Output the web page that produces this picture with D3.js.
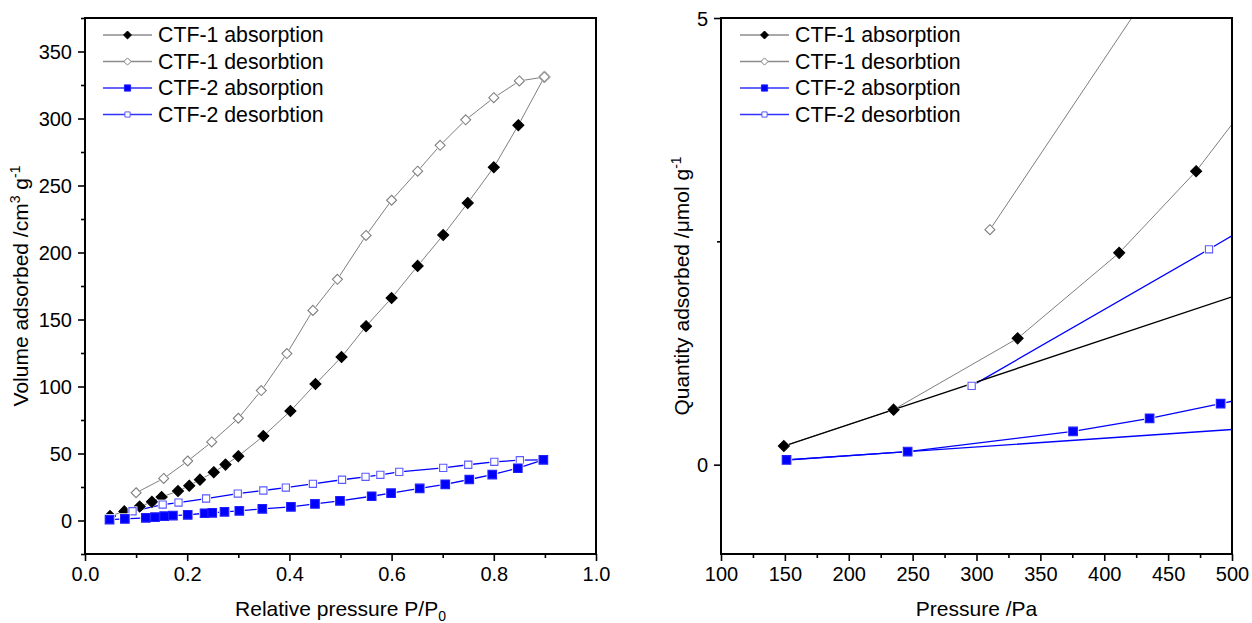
<!DOCTYPE html>
<html>
<head>
<meta charset="utf-8">
<script src="https://cdn.jsdelivr.net/npm/d3@7"></script>
<style>
  body { margin: 0; background: #fff; }
  svg { font-family: "Liberation Sans", Arial, sans-serif; }
</style>
</head>
<body>
<svg id="chart"></svg>
<script>
// Legend text, same for both panels
const legendLabels = ['CTF-1 absorption', 'CTF-1 desorbtion', 'CTF-2 absorption', 'CTF-2 desorbtion'];

// Left panel: relative pressure vs volume adsorbed
const relP1Abs = [0.049, 0.077, 0.107, 0.131, 0.15, 0.182, 0.204, 0.225, 0.252, 0.275, 0.3, 0.349, 0.402, 0.451, 0.502, 0.55, 0.6, 0.651, 0.701, 0.749, 0.8, 0.848, 0.899];
const vol1Abs = [3.3, 6.8, 10.4, 13.9, 17.5, 22, 26, 30.5, 36, 41.7, 48, 63, 81.7, 101.8, 122, 145, 166, 190, 213, 237, 263.6, 295, 331];
const relP1Des = [0.899, 0.85, 0.8, 0.745, 0.695, 0.651, 0.6, 0.55, 0.494, 0.446, 0.395, 0.345, 0.3, 0.248, 0.201, 0.154, 0.1];
const vol1Des = [331, 328, 315.5, 299, 280, 260.7, 239, 212.7, 180, 156.8, 124.6, 97, 76.3, 58.6, 44.4, 31.4, 20.7];
const relP2Abs = [0.048, 0.078, 0.119, 0.137, 0.155, 0.172, 0.201, 0.234, 0.249, 0.273, 0.302, 0.347, 0.403, 0.45, 0.499, 0.561, 0.599, 0.655, 0.705, 0.752, 0.797, 0.847, 0.897];
const vol2Abs = [0.7, 1.2, 2.0, 2.5, 3.2, 3.7, 4.2, 5.4, 5.7, 6.5, 7.2, 8.7, 10.2, 12.4, 14.7, 18.1, 20.4, 23.9, 27, 30.6, 34.3, 39, 45.3];
const relP2Des = [0.897, 0.851, 0.801, 0.75, 0.701, 0.615, 0.578, 0.549, 0.503, 0.446, 0.393, 0.349, 0.299, 0.237, 0.183, 0.152, 0.093];
const vol2Des = [45.3, 45, 43.8, 41.6, 39.3, 36.3, 34.1, 32.6, 30.4, 27.4, 24.6, 22.4, 20.1, 16.4, 13.4, 11.9, 6.9];
const leftXTicks = [0, 0.2, 0.4, 0.6, 0.8, 1.0];
const leftYTicks = [0, 50, 100, 150, 200, 250, 300, 350];

// Right panel: pressure (Pa) vs quantity adsorbed, low-pressure zoom
const pres1Abs = [149.2, 235.1, 332.2, 411.7, 471.9, 531];
const qty1Abs = [0.208, 0.616, 1.414, 2.371, 3.285, 4.39];
const pres1Des = [480, 310.5];
const qty1Des = [6.25, 2.63];
const pres2Abs = [151.3, 246.1, 375.6, 435.5, 491.1, 550];
const qty2Abs = [0.053, 0.146, 0.372, 0.519, 0.683, 0.86];
const pres2Des = [560, 482, 296.2];
const qty2Des = [3.07, 2.411, 0.882];
// straight lines through the first two adsorption points
const pres1Line = [149.2, 235.1, 500];
const qty1Line = [0.208, 0.616, 1.879];
const pres2Line = [151.3, 246.1, 500];
const qty2Line = [0.053, 0.146, 0.394];
const rightXTicks = [100, 150, 200, 250, 300, 350, 400, 450, 500];
const rightYTicks = [0, 5];

const width = 1252;
const height = 623;

const svg = d3.select('#chart')
  .attr('width', width)
  .attr('height', height);

// marker looks, in legend order
const styles = [
  {line: '#7f7f7f', lineWidth: 1, shape: 'diamond', fill: '#000', stroke: '#000', r: 5.5},
  {line: '#7f7f7f', lineWidth: 1, shape: 'diamond', fill: '#fff', stroke: '#808080', r: 5},
  {line: '#0000ff', lineWidth: 1.3, shape: 'square', fill: '#0000ff', stroke: '#2020ff', r: 4.3},
  {line: '#0000ff', lineWidth: 1.3, shape: 'square', fill: '#fff', stroke: '#5a5aff', r: 3.6}
];

const zip = (xs, ys) => xs.map((x, i) => [x, ys[i]]);

function markerPath(shape, r) {
  if (shape === 'diamond') return `M0,${-r}L${r},0L0,${r}L${-r},0Z`;
  return `M${-r},${-r}H${r}V${r}H${-r}Z`;
}

function drawPanel(p) {
  const x = d3.scaleLinear().domain(p.xDomain).range([p.left, p.right]);
  const y = d3.scaleLinear().domain(p.yDomain).range([p.bottom, p.top]);
  const g = svg.append('g');

  g.append('clipPath').attr('id', p.id + '-clip')
    .append('rect')
    .attr('x', p.left).attr('y', p.top)
    .attr('width', p.right - p.left).attr('height', p.bottom - p.top);

  // axes: majors with labels, minors without
  g.append('g').attr('transform', `translate(0,${p.bottom})`)
    .call(d3.axisBottom(x).tickValues(p.xTicks).tickSize(7).tickPadding(6).tickFormat(p.xFormat));
  g.append('g').attr('transform', `translate(0,${p.bottom})`)
    .call(d3.axisBottom(x).tickValues(p.xMinor).tickSize(4).tickFormat(''));
  const yAxis = g.append('g').attr('transform', `translate(${p.left},0)`)
    .call(d3.axisLeft(y).tickValues(p.yTicks).tickSize(7).tickPadding(6).tickFormat(d3.format('d')));
  g.append('g').attr('transform', `translate(${p.left},0)`)
    .call(d3.axisLeft(y).tickValues(p.yMinor).tickSize(4).tickFormat(''));
  g.selectAll('.domain').remove();
  g.selectAll('.tick line').attr('stroke', '#000').attr('stroke-width', 1.6);
  g.selectAll('.tick text')
    .attr('font-family', '"Liberation Sans", Arial, sans-serif')
    .attr('font-size', 20).attr('fill', '#000');
  yAxis.selectAll('.tick text').attr('dy', '0.35em');

  // data
  const plot = g.append('g').attr('clip-path', `url(#${p.id}-clip)`);
  const line = d3.line().x(d => x(d[0])).y(d => y(d[1]));

  p.series.forEach(s => {
    const st = styles[s.style];
    plot.append('path').datum(s.points)
      .attr('fill', 'none').attr('stroke', st.line).attr('stroke-width', st.lineWidth)
      .attr('d', line);
  });
  p.extraLines.forEach(e => {
    plot.append('path').datum(e.points)
      .attr('fill', 'none').attr('stroke', e.color).attr('stroke-width', e.width)
      .attr('d', line);
  });
  p.series.forEach(s => {
    const st = styles[s.style];
    // white halo gives the little gap between line and symbol
    plot.selectAll(null).data(s.points).join('path')
      .attr('transform', d => `translate(${x(d[0])},${y(d[1])})`)
      .attr('d', markerPath(st.shape, st.r + 1.3))
      .attr('fill', '#fff');
    plot.selectAll(null).data(s.points).join('path')
      .attr('transform', d => `translate(${x(d[0])},${y(d[1])})`)
      .attr('d', markerPath(st.shape, st.r))
      .attr('fill', st.fill).attr('stroke', st.stroke).attr('stroke-width', 1.1);
  });

  // frame
  g.append('rect')
    .attr('x', p.left).attr('y', p.top)
    .attr('width', p.right - p.left).attr('height', p.bottom - p.top)
    .attr('fill', 'none').attr('stroke', '#000').attr('stroke-width', 2);

  // legend
  const legend = g.append('g');
  legendLabels.forEach((label, i) => {
    const st = styles[i];
    const ly = 35 + i * 26.5;
    legend.append('line')
      .attr('x1', p.legendX).attr('x2', p.legendX + 49)
      .attr('y1', ly).attr('y2', ly)
      .attr('stroke', st.line === '#7f7f7f' ? '#8c8c8c' : '#3030ff').attr('stroke-width', 1.5);
    legend.append('path')
      .attr('transform', `translate(${p.legendX + 24.5},${ly})`)
      .attr('d', markerPath(st.shape, st.r * 0.72))
      .attr('fill', st.fill).attr('stroke', st.stroke).attr('stroke-width', 1);
    legend.append('text')
      .attr('x', p.legendX + 55).attr('y', ly).attr('dy', '0.35em')
      .attr('font-size', 21.3).text(label);
  });

  // axis titles
  const xt = g.append('text')
    .attr('x', (p.left + p.right) / 2).attr('y', 616)
    .attr('text-anchor', 'middle').attr('font-size', 21);
  p.xTitle(xt);
  const yt = g.append('text')
    .attr('transform', `translate(${p.yTitleX},${(p.top + p.bottom) / 2}) rotate(-90)`)
    .attr('text-anchor', 'middle').attr('dy', '0.35em').attr('font-size', 21);
  p.yTitle(yt);
}

drawPanel({
  id: 'left',
  left: 85, right: 596, top: 18, bottom: 554,
  xDomain: [0, 1], yDomain: [-25, 375],
  xTicks: leftXTicks, xMinor: [0.1, 0.3, 0.5, 0.7, 0.9],
  yTicks: leftYTicks, yMinor: [-25, 25, 75, 125, 175, 225, 275, 325, 375],
  xFormat: d3.format('.1f'),
  legendX: 103,
  yTitleX: 21,
  extraLines: [],
  series: [
    {style: 0, points: zip(relP1Abs, vol1Abs)},
    {style: 1, points: zip(relP1Des, vol1Des)},
    {style: 3, points: zip(relP2Des, vol2Des)},
    {style: 2, points: zip(relP2Abs, vol2Abs)}
  ],
  xTitle: t => {
    t.append('tspan').text('Relative pressure P/P');
    t.append('tspan').attr('font-size', 14).attr('dy', 5).text('0');
  },
  yTitle: t => {
    t.append('tspan').text('Volume adsorbed /cm');
    t.append('tspan').attr('font-size', 14).attr('dy', -8).text('3');
    t.append('tspan').attr('dy', 8).text(' g');
    t.append('tspan').attr('font-size', 14).attr('dy', -8).text('-1');
  }
});

drawPanel({
  id: 'right',
  left: 721, right: 1232, top: 18, bottom: 554,
  xDomain: [100, 500], yDomain: [-1, 5],
  xTicks: rightXTicks, xMinor: [125, 175, 225, 275, 325, 375, 425, 475],
  yTicks: rightYTicks, yMinor: [2.5],
  xFormat: d3.format('d'),
  legendX: 740,
  yTitleX: 682,
  extraLines: [
    {color: '#000', width: 1.4, points: zip(pres1Line, qty1Line)},
    {color: '#0000ff', width: 1.4, points: zip(pres2Line, qty2Line)}
  ],
  series: [
    {style: 0, points: zip(pres1Abs, qty1Abs)},
    {style: 1, points: zip(pres1Des, qty1Des)},
    {style: 2, points: zip(pres2Abs, qty2Abs)},
    {style: 3, points: zip(pres2Des, qty2Des)}
  ],
  xTitle: t => t.text('Pressure /Pa'),
  yTitle: t => {
    t.append('tspan').text('Quantity adsorbed /\u03bcmol g');
    t.append('tspan').attr('font-size', 14).attr('dy', -8).text('-1');
  }
});
</script>
</body>
</html>
